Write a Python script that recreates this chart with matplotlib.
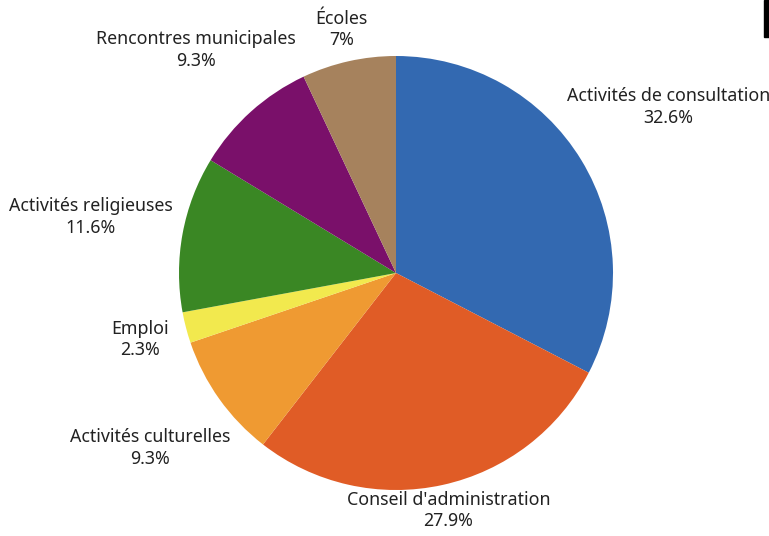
import numpy as np
import matplotlib
matplotlib.use("Agg")
import matplotlib.pyplot as plt

labels = ["Activités de consultation", "Conseil d'administration", "Activités culturelles",
          "Emploi", "Activités religieuses", "Rencontres municipales", "Écoles"]
values = [32.6, 27.9, 9.3, 2.3, 11.6, 9.3, 7.0]
pct_text = ["32.6%", "27.9%", "9.3%", "2.3%", "11.6%", "9.3%", "7%"]
colors = ["#3369B1", "#E05C26", "#EF9A32", "#F2E94E", "#3A8724", "#7A106A", "#A6825D"]

# how far out each label sits (in pie radii)
label_dist = [1.47, 1.12, 1.39, 1.22, 1.43, 1.38, 1.15]

plt.rcParams['font.family'] = ['Noto Sans', 'DejaVu Sans']

fig = plt.figure(figsize=(7.69, 5.36), dpi=100)
r_px = 217
cx, cy = 396, 273
ax = fig.add_axes([(cx - r_px) / 769, (536 - cy - r_px) / 536, 2 * r_px / 769, 2 * r_px / 536])

wedges, _ = ax.pie(values, colors=colors, startangle=90, counterclock=False,
                   radius=1, wedgeprops=dict(linewidth=0))
ax.set_xlim(-1, 1)
ax.set_ylim(-1, 1)
ax.set_aspect('equal')
ax.axis('off')

for w, lab, pct, d in zip(wedges, labels, pct_text, label_dist):
    ang = np.deg2rad((w.theta1 + w.theta2) / 2)
    ax.text(d * np.cos(ang), d * np.sin(ang), lab + "\n" + pct, ha='center', va='center',
            fontsize=12.8, color='#222222', linespacing=1.25, clip_on=False)

# black bar at top right corner
fig.patches.append(plt.Rectangle((764 / 769, (536 - 37) / 536), 5 / 769, 37 / 536,
                                 transform=fig.transFigure, color='black'))

fig.savefig("out.png", dpi=100)
